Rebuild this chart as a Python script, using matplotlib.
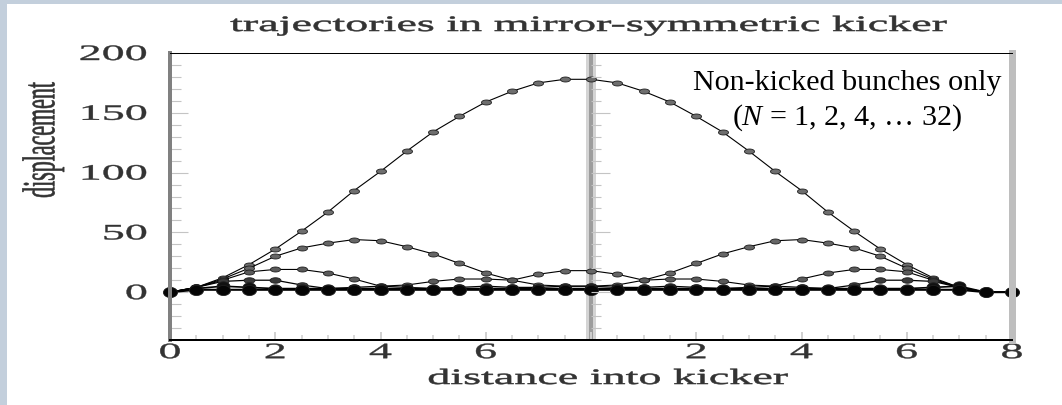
import numpy as np
import matplotlib
matplotlib.use("Agg")
import matplotlib.pyplot as plt
import matplotlib.patheffects as pe
from matplotlib.path import Path
from matplotlib.patches import Rectangle
from matplotlib.transforms import Affine2D
from matplotlib.ticker import MultipleLocator, FixedLocator

# ---------------- data ----------------
distance = [0, 0.5, 1, 1.5, 2, 2.5, 3, 3.5, 4, 4.5, 5, 5.5, 6, 6.5, 7, 7.5,
            8, 8.5, 9, 9.5, 10, 10.5, 11, 11.5, 12, 12.5, 13, 13.5, 14, 14.5, 15, 15.5, 16]

disp_N1 = [0, 4, 12, 23, 36, 51, 67, 85, 101, 118, 134, 147, 159, 168, 175, 178,
           178, 175, 168, 159, 147, 134, 118, 101, 85, 67, 51, 36, 23, 12, 4, 0, 0]
disp_N2 = [0, 4, 11, 20, 30, 37, 41, 44, 43, 38, 32, 24, 16, 10, 15, 18,
           18, 15, 10, 16, 24, 32, 38, 43, 44, 41, 37, 30, 20, 11, 4, 0, 0]
disp_N4 = [0, 4, 10, 17, 19, 19, 16, 11, 5, 6, 9, 11, 11, 10, 6, 5,
           5, 6, 10, 11, 11, 9, 6, 5, 11, 16, 19, 19, 17, 10, 4, 0, 0]
disp_N8 = [0, 4, 9, 10, 10, 6, 3, 4, 5, 4, 3, 4, 5, 4, 4, 5,
           5, 4, 4, 5, 4, 3, 4, 5, 4, 3, 6, 10, 10, 9, 4, 0, 0]
disp_N16 = [0, 3, 5, 4, 3, 3, 3, 3, 3, 3, 3, 3, 3, 3, 3, 3,
            3, 3, 3, 3, 3, 3, 3, 3, 3, 3, 3, 3, 3, 4, 5, 0, 0]
disp_N32 = [0, 2, 2, 2, 2, 2, 2, 2, 2, 2, 2, 2, 2, 2, 2, 2,
            2, 2, 2, 2, 2, 2, 2, 2, 2, 2, 2, 2, 2, 2, 2, 0, 0]
series = [disp_N1, disp_N2, disp_N4, disp_N8, disp_N16, disp_N32]

xtick_pos = [0, 2, 4, 6, 8, 10, 12, 14, 16]
xtick_labels = ["0", "2", "4", "6", "", "2", "4", "6", "8"]
ytick_pos = [0, 50, 100, 150, 200]
ytick_labels = ["0", "50", "100", "150", "200"]

title = "trajectories in mirror-symmetric kicker"
xlabel = "distance into kicker"
ylabel = "displacement"
note1 = "Non-kicked bunches only"
note2 = "($N$ = 1, 2, 4, \u2026 32)"

# ---------------- helpers ----------------
W, H = 1062, 406
STRETCH = 2.1


class Stretch(pe.AbstractPathEffect):
    """Stretch glyphs of a text in its own frame (mimics the widened original)."""

    def __init__(self, sx=1.0, sy=1.0, hanchor="center", stroke=0.0):
        super().__init__()
        self.sx, self.sy, self.hanchor, self.stroke = sx, sy, hanchor, stroke

    def draw_path(self, renderer, gc, tpath, affine, rgbFace=None):
        ext = tpath.get_extents()
        if self.hanchor == "left":
            cx = ext.x0
        elif self.hanchor == "right":
            cx = ext.x1
        else:
            cx = 0.5 * (ext.x0 + ext.x1)
        cy = 0.5 * (ext.y0 + ext.y1) if self.sy != 1.0 else 0.0
        t = Affine2D().translate(-cx, -cy).scale(self.sx, self.sy).translate(cx, cy) + affine
        if self.stroke > 0:
            gc0 = renderer.new_gc()
            gc0.copy_properties(gc)
            gc0.set_linewidth(self.stroke)
            if rgbFace is not None:
                gc0.set_foreground(rgbFace)
            renderer.draw_path(gc0, tpath, t, rgbFace)
            gc0.restore()
        else:
            renderer.draw_path(gc, tpath, t, rgbFace)


def px2pt(p):
    return p * 72.0 / 100.0


plt.rcParams["mathtext.fontset"] = "custom"
plt.rcParams["mathtext.rm"] = "Liberation Serif"
plt.rcParams["mathtext.it"] = "Liberation Serif:italic"

SERIF = "Liberation Serif"
TXT = "#333333"
FS = 15.8

fig = plt.figure(figsize=(W / 100, H / 100), dpi=100)
fig.patch.set_facecolor("#c3cfdc")
fig.patches.append(Rectangle((7 / W, 0), 1, 1 - 5 / H, transform=fig.transFigure,
                             facecolor="white", edgecolor="none", zorder=-10))

x0, x1, ytop, ybot = 170, 1012, 54, 341
ax = fig.add_axes([x0 / W, 1 - ybot / H, (x1 - x0) / W, (ybot - ytop) / H])
ax.set_xlim(0, 16)
ax.set_ylim(-40, 200)

# vertical separator in the middle
ax.axvline(8, color="#d4d4d4", lw=px2pt(10), zorder=0.5)
ax.axvline(8, color="#9d9d9d", lw=px2pt(4), zorder=0.6)

# markers: flattened ellipses
t = np.linspace(0, 2 * np.pi, 41)
ell = Path(np.column_stack([np.cos(t), 0.5 * np.sin(t)]), closed=True)
blob = Path(np.column_stack([np.cos(t), 0.72 * np.sin(t)]), closed=True)

faces = ["#6e6e6e", "#666666", "#5a5a5a", "#3a3a3a", "#111111", "#050505"]
shapes = [ell, ell, ell, ell, blob, blob]
sizes = [px2pt(10), px2pt(10), px2pt(10), px2pt(11), px2pt(13), px2pt(14)]
widths = [0.8, 0.8, 0.8, 0.9, 1.2, 1.5]
for vals, fc, mk, ms, lw in zip(series, faces, shapes, sizes, widths):
    ax.plot(distance, vals, color="black", lw=lw, marker=mk, ms=ms,
            mfc=fc, mec="#1e1e1e", mew=0.6, zorder=3, clip_on=False)

# spines
for name in ("left", "bottom", "top", "right"):
    ax.spines[name].set_zorder(4)
ax.spines["left"].set_color("#808080")
ax.spines["left"].set_linewidth(px2pt(4))
ax.spines["bottom"].set_color("black")
ax.spines["bottom"].set_linewidth(px2pt(2))
ax.spines["top"].set_color("black")
ax.spines["top"].set_linewidth(px2pt(1))
ax.spines["right"].set_color("#bebebe")
ax.spines["right"].set_linewidth(px2pt(7))

# ticks
ax.xaxis.set_major_locator(FixedLocator(xtick_pos))
ax.set_xticklabels(xtick_labels)
ax.xaxis.set_minor_locator(MultipleLocator(0.5))
ax.yaxis.set_major_locator(FixedLocator(ytick_pos))
ax.set_yticklabels(ytick_labels)
ax.yaxis.set_minor_locator(MultipleLocator(10))
ax.tick_params(axis="x", which="major", direction="in", length=px2pt(8), width=1.4,
               color="#d0d0d0", pad=3, labelsize=FS, labelcolor=TXT)
ax.tick_params(axis="x", which="minor", direction="in", length=px2pt(5), width=1.4,
               color="#d8d8d8")
ax.tick_params(axis="y", which="major", direction="in", length=px2pt(18), width=0.8,
               color="#c4c4c4", pad=px2pt(23), labelsize=FS, labelcolor=TXT)
ax.tick_params(axis="y", which="minor", direction="in", length=px2pt(11), width=0.8,
               color="#c4c4c4")
for lab in ax.get_xticklabels():
    lab.set_family(SERIF)
    lab.set_path_effects([Stretch(STRETCH, 1.0, "center", 0.3)])
for lab in ax.get_yticklabels():
    lab.set_family(SERIF)
    lab.set_path_effects([Stretch(STRETCH, 1.0, "right", 0.3)])

# ticks on the middle separator
axm = ax.inset_axes([0.5, 0, 0, 1])
axm.set_ylim(ax.get_ylim())
axm.patch.set_visible(False)
for s in axm.spines.values():
    s.set_visible(False)
axm.xaxis.set_visible(False)
axm.yaxis.set_ticks_position("right")
axm.yaxis.set_major_locator(FixedLocator(ytick_pos[:-1]))
axm.yaxis.set_minor_locator(FixedLocator([v for v in range(-30, 200, 10) if v % 50]))
axm.tick_params(axis="y", which="major", direction="out", length=px2pt(19), width=0.8,
                color="#c4c4c4", labelright=False)
axm.tick_params(axis="y", which="minor", direction="out", length=px2pt(10), width=0.8,
                color="#c4c4c4")

# texts
fig.text(589 / W, 1 - 32 / H, title, ha="center", va="baseline", family=SERIF,
         fontsize=FS, color=TXT, path_effects=[Stretch(STRETCH, 1.0, "center", 0.4)])
fig.text(608 / W, 1 - 385 / H, xlabel, ha="center", va="baseline", family=SERIF,
         fontsize=FS, color=TXT, path_effects=[Stretch(STRETCH, 1.0, "center", 0.4)])
fig.text(44 / W, 1 - 141 / H, ylabel, ha="center", va="center", rotation=90,
         family=SERIF, fontsize=FS, color=TXT,
         path_effects=[Stretch(1.0, STRETCH, "center", 0.4)])
fig.text(847 / W, 1 - 90.5 / H, note1, ha="center", va="baseline", family=SERIF,
         fontsize=21.6, color="black")
fig.text(847 / W, 1 - 125 / H, note2, ha="center", va="baseline", family=SERIF,
         fontsize=21.6, color="black")

fig.savefig("out.png", dpi=100, facecolor=fig.get_facecolor())
